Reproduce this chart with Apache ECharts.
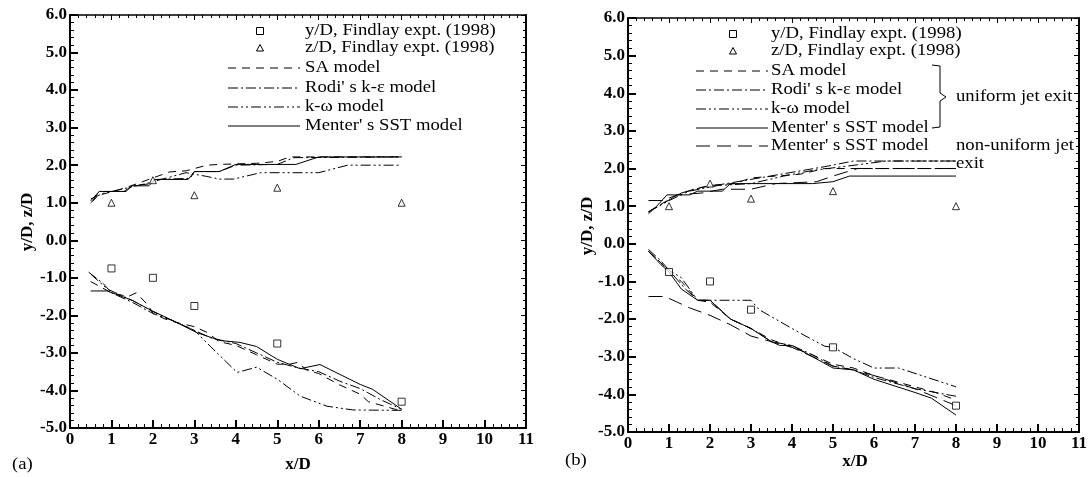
<!DOCTYPE html>
<html><head><meta charset="utf-8">
<script src="https://cdn.jsdelivr.net/npm/echarts@6/dist/echarts.min.js"></script>
<style>html,body{margin:0;padding:0;background:#fff}#c{width:1090px;height:477px}</style>
</head><body><div id="c"></div>
<script>
// ---------- DATA ----------
const xTicks = [0,1,2,3,4,5,6,7,8,9,10,11];
const yTicks = [-5,-4,-3,-2,-1,0,1,2,3,4,5,6];
const expX  = [1, 2, 3, 5, 8];
const expYD = [-0.75, -1.0, -1.75, -2.75, -4.3];   // y/D Findlay expt.
const expZD = [1.0, 1.6, 1.2, 1.4, 1.0];           // z/D Findlay expt.

// Panel (a) : z/D branch (upper)
const aSAzX   = [0.5,0.7,1.2,1.6,2.1,2.4,2.8,3.3,3.6,4.5,5.0,5.3,8.0];
const aSAz    = [1.0,1.2,1.35,1.5,1.7,1.82,1.85,2.0,2.02,2.05,2.1,2.22,2.22];
const aRodizX = [0.5,0.7,1.3,1.5,1.9,2.1,2.9,3.0,3.6,4.0,5.0,5.4,8.0];
const aRodiz  = [1.05,1.3,1.3,1.45,1.5,1.62,1.65,1.83,1.83,2.0,2.02,2.2,2.22];
const aKWzX   = [0.5,0.8,1.4,1.8,2.2,2.8,3.3,3.6,3.95,4.6,6.0,6.7,8.0];
const aKWz    = [1.1,1.25,1.4,1.5,1.62,1.8,1.7,1.63,1.63,1.8,1.8,2.0,2.0];
const aSSTzX  = [0.55,0.7,1.35,1.5,1.9,2.05,2.85,3.0,3.6,4.0,5.45,6.0,8.0];
const aSSTz   = [1.05,1.3,1.3,1.45,1.45,1.62,1.62,1.83,1.83,2.02,2.02,2.22,2.22];
// Panel (a) : y/D branch (lower)
const aSAyX   = [0.5,1.0,1.4,1.6,1.9,2.0,2.3,2.6,3.0,3.3,3.6,4.0,4.5,5.0,5.3,5.5,5.7,6.0,6.5,7.0,7.2,8.0];
const aSAy    = [-1.1,-1.4,-1.5,-1.4,-1.75,-1.95,-2.1,-2.2,-2.3,-2.45,-2.7,-2.8,-3.05,-3.3,-3.3,-3.25,-3.45,-3.55,-3.85,-4.1,-4.3,-4.55];
const aRodiyX = [0.45,0.8,1.0,1.5,2.0,2.5,3.0,3.4,4.0,4.5,5.0,5.5,6.0,6.5,7.0,7.5,8.0];
const aRodiy  = [-0.85,-1.15,-1.4,-1.65,-1.95,-2.15,-2.4,-2.6,-2.75,-3.0,-3.25,-3.4,-3.5,-3.75,-3.95,-4.25,-4.5];
const aKWyX   = [0.5,0.9,1.5,2.0,2.5,3.0,3.38,4.03,4.5,5.0,5.55,6.2,6.83,8.0];
const aKWy    = [-0.9,-1.3,-1.6,-1.9,-2.15,-2.4,-2.82,-3.52,-3.38,-3.7,-4.15,-4.42,-4.52,-4.53];
const aSSTyX  = [0.5,0.9,1.5,2.0,2.5,3.06,3.62,4.1,4.5,5.0,5.55,6.03,7.0,7.3,8.0];
const aSSTy   = [-1.35,-1.35,-1.6,-1.89,-2.15,-2.46,-2.67,-2.72,-2.83,-3.17,-3.42,-3.31,-3.84,-3.97,-4.5];

// Panel (b) : z/D branch (upper)
const bSAzX   = [0.5,0.8,1.2,1.6,2.0,2.6,3.0,3.6,4.2,4.8,8.0];
const bSAz    = [0.85,1.05,1.3,1.45,1.55,1.6,1.75,1.8,1.85,2.0,2.0];
const bRodizX = [0.5,0.9,1.3,1.8,2.4,3.2,4.0,4.8,5.5,8.0];
const bRodiz  = [0.85,1.1,1.35,1.5,1.6,1.75,1.9,2.05,2.2,2.2];
const bKWzX   = [0.5,1.0,1.5,2.2,3.0,3.8,4.5,5.6,6.3,8.0];
const bKWz    = [0.85,1.15,1.4,1.55,1.6,1.8,1.95,2.1,2.2,2.2];
const bSSTzX  = [0.5,0.7,0.95,1.5,1.7,2.3,2.5,4.5,5.0,5.4,8.0];
const bSSTz   = [0.8,1.0,1.3,1.3,1.4,1.4,1.6,1.6,1.65,1.8,1.8];
const bNUzX   = [0.5,0.85,1.2,1.8,2.3,3.0,3.6,4.6,5.0,5.6,8.0];
const bNUz    = [1.15,1.15,1.3,1.35,1.45,1.45,1.6,1.65,1.8,2.0,2.0];
// Panel (b) : y/D branch (lower)
const bSAyX   = [0.5,0.8,1.0,1.3,1.7,2.0,2.5,3.0,3.5,4.0,4.5,5.0,5.5,6.0,7.0,7.5,8.0];
const bSAy    = [-0.2,-0.5,-0.75,-1.0,-1.5,-1.55,-2.0,-2.25,-2.55,-2.75,-2.95,-3.2,-3.3,-3.5,-3.8,-3.95,-4.15];
const bRodiyX = [0.5,0.8,1.0,1.4,1.7,2.0,2.5,3.0,3.5,4.0,4.5,5.0,5.5,6.0,7.0,8.0];
const bRodiy  = [-0.15,-0.45,-0.7,-1.2,-1.5,-1.5,-2.0,-2.25,-2.6,-2.7,-2.95,-3.25,-3.35,-3.55,-3.85,-4.05];
const bKWyX   = [0.5,0.8,1.0,1.3,1.7,2.5,3.0,3.2,4.0,4.5,4.8,5.0,5.5,6.0,6.6,7.3,8.0];
const bKWy    = [-0.2,-0.5,-0.7,-0.9,-1.5,-1.5,-1.5,-1.75,-2.25,-2.55,-2.72,-2.75,-3.05,-3.3,-3.3,-3.55,-3.8];
const bSSTyX  = [0.5,0.8,1.0,1.3,1.7,2.0,2.5,3.0,3.5,3.7,4.0,4.5,5.0,5.5,5.7,6.0,7.0,7.4,8.0];
const bSSTy   = [-0.2,-0.55,-0.75,-1.2,-1.5,-1.5,-2.0,-2.25,-2.6,-2.7,-2.7,-3.0,-3.3,-3.35,-3.45,-3.6,-3.95,-4.1,-4.55];
const bNUyX   = [0.5,0.9,1.2,1.5,2.0,2.5,3.0,3.5,4.0,4.5,5.0,5.5,6.0,7.0,8.0];
const bNUy    = [-1.4,-1.4,-1.55,-1.7,-1.9,-2.15,-2.45,-2.6,-2.75,-3.0,-3.25,-3.35,-3.5,-3.85,-4.3];

// ---------- STYLE ----------
const SERIF = '"Liberation Serif","DejaVu Serif",serif';
const DASH = {SA:[8,6], Rodi:[10,3,2,3], KW:[10,3,2,3,2,3], SST:'solid', NU:[14,7]};

function zip(xs, ys){ return xs.map((x,i)=>[x, ys[i]]); }
function line(xs, ys, dash, g){
  return {type:'line', xAxisIndex:g*2, yAxisIndex:g*2, data:zip(xs,ys), symbol:'none',
    lineStyle:{color:'#000', width:1, type:dash}, silent:true, animation:false, z:3};
}
function scat(xs, ys, sym, size, g){
  return {type:'scatter', xAxisIndex:g*2, yAxisIndex:g*2, data:zip(xs,ys), symbol:sym, symbolSize:size,
    itemStyle:{color:'#fff', borderColor:'#000', borderWidth:1}, silent:true, animation:false, z:5};
}
function axesFor(g){
  const xa = [
    {gridIndex:g, type:'value', min:0, max:11, interval:1, position:'bottom',
     axisLine:{onZero:false, lineStyle:{color:'#000', width:2}}, axisTick:{inside:true, length:8, lineStyle:{width:2}},
     minorTick:{show:true, splitNumber:5, length:4, lineStyle:{color:'#000', width:1}},
     splitLine:{show:false},
     axisLabel:{color:'#000', fontFamily:SERIF, fontSize:17, fontWeight:'bold', margin:3,
       formatter:v=>String(xTicks[Math.round(v)])}},
    {gridIndex:g, type:'value', min:0, max:11, interval:1, position:'top',
     axisLine:{onZero:false, lineStyle:{color:'#000', width:1.5}}, axisTick:{inside:true, length:5, lineStyle:{width:1}},
     minorTick:{show:true, splitNumber:5, length:3, lineStyle:{color:'#000'}},
     splitLine:{show:false}, axisLabel:{show:false}}
  ];
  const ya = [
    {gridIndex:g, type:'value', min:-5, max:6, interval:1, position:'left',
     axisLine:{onZero:false, lineStyle:{color:'#000', width:2}}, axisTick:{inside:true, length:8, lineStyle:{width:2}},
     minorTick:{show:true, splitNumber:5, length:4, lineStyle:{color:'#000', width:1}},
     splitLine:{show:false},
     axisLabel:{color:'#000', fontFamily:SERIF, fontSize:17, fontWeight:'bold', margin:3,
       formatter:v=>yTicks[Math.round(v)+5].toFixed(1)}},
    {gridIndex:g, type:'value', min:-5, max:6, interval:1, position:'right',
     axisLine:{onZero:false, lineStyle:{color:'#000', width:2}}, axisTick:{inside:true, length:5, lineStyle:{width:1}},
     minorTick:{show:true, splitNumber:5, length:3, lineStyle:{color:'#000'}},
     splitLine:{show:false}, axisLabel:{show:false}}
  ];
  return {xa, ya};
}
const A = axesFor(0), B = axesFor(1);

// ---------- LEGEND / ANNOTATIONS (graphic) ----------
function txt(x, y, s, opt){
  return Object.assign({type:'text', x, y, scaleX:1.1, silent:true, z:10,
    style:{text:s, fill:'#000', font:'17px '+SERIF, textAlign:'left', textVerticalAlign:'middle'}}, opt||{});
}
function lsample(x1, x2, y, dash){
  return {type:'line', silent:true, z:10, shape:{x1, y1:y, x2, y2:y},
    style:{stroke:'#000', lineWidth:1, lineDash: dash==='solid'?null:dash}};
}
function sq(x, y){ return {type:'rect', silent:true, z:10, shape:{x:x-3.5, y:y-3.5, width:7, height:7}, style:{fill:'#fff', stroke:'#000', lineWidth:1}}; }
function tri(x, y){ return {type:'polygon', silent:true, z:10, shape:{points:[[x,y-3.5],[x+3.5,y+3],[x-3.5,y+3]]}, style:{fill:'#fff', stroke:'#000', lineWidth:1}}; }

const legA = [
  sq(260,31), txt(305,31,'y/D, Findlay expt. (1998)'),
  tri(260,48), txt(305,48,'z/D, Findlay expt. (1998)'),
  lsample(228,300,68,DASH.SA), txt(305,68,'SA model'),
  lsample(228,300,88,DASH.Rodi), txt(305,88,"Rodi' s k-ε model"),
  lsample(228,300,107,DASH.KW), txt(305,107,'k-ω model'),
  lsample(228,300,126,DASH.SST), txt(305,126,"Menter' s SST model")
];
const legB = [
  sq(733,34), txt(771,34,'y/D, Findlay expt. (1998)'),
  tri(733,51), txt(771,51,'z/D, Findlay expt. (1998)'),
  lsample(696,768,71,DASH.SA), txt(771,71,'SA model'),
  lsample(696,768,90,DASH.Rodi), txt(771,90,"Rodi' s k-ε model"),
  lsample(696,768,109,DASH.KW), txt(771,109,'k-ω model'),
  lsample(696,768,128,DASH.SST), txt(771,128,"Menter' s SST model"),
  lsample(696,768,146,DASH.NU), txt(771,146,"Menter' s SST model"),
  {type:'polyline', silent:true, z:10, shape:{points:[[932,65],[940,66],[940,93],[946,97],[940,101],[940,127],[932,128]]}, style:{stroke:'#000', lineWidth:1, fill:null}},
  txt(956,97,'uniform jet exit'),
  txt(956,146,'non-uniform jet'),
  txt(956,164,'exit')
];
function bold(x, y, s, rot){
  return {type:'text', x, y, rotation:rot||0, silent:true, z:10,
    style:{text:s, fill:'#000', font:'bold 17px '+SERIF, textAlign:'center', textVerticalAlign:'middle'}};
}
const labels = [
  txt(12,465,'(a)'), txt(565,461,'(b)'),
  bold(298,465,'x/D'), bold(855,462,'x/D'),
  bold(28,222,'y/D, z/D',Math.PI/2), bold(588,226,'y/D, z/D',Math.PI/2)
];

const chart = echarts.init(document.getElementById('c'), null, {renderer:'canvas'});
chart.setOption({
  animation:false,
  backgroundColor:'#fff',
  grid:[
    {left:70, top:15, width:456, height:413},
    {left:628, top:18, width:454, height:414}
  ],
  xAxis:[...A.xa, ...B.xa],
  yAxis:[...A.ya, ...B.ya],
  series:[
    line(aSAzX,aSAz,DASH.SA,0), line(aRodizX,aRodiz,DASH.Rodi,0), line(aKWzX,aKWz,DASH.KW,0), line(aSSTzX,aSSTz,DASH.SST,0),
    line(aSAyX,aSAy,DASH.SA,0), line(aRodiyX,aRodiy,DASH.Rodi,0), line(aKWyX,aKWy,DASH.KW,0), line(aSSTyX,aSSTy,DASH.SST,0),
    scat(expX,expYD,'rect',7,0), scat(expX,expZD,'triangle',7,0),
    line(bSAzX,bSAz,DASH.SA,1), line(bRodizX,bRodiz,DASH.Rodi,1), line(bKWzX,bKWz,DASH.KW,1), line(bSSTzX,bSSTz,DASH.SST,1), line(bNUzX,bNUz,DASH.NU,1),
    line(bSAyX,bSAy,DASH.SA,1), line(bRodiyX,bRodiy,DASH.Rodi,1), line(bKWyX,bKWy,DASH.KW,1), line(bSSTyX,bSSTy,DASH.SST,1), line(bNUyX,bNUy,DASH.NU,1),
    scat(expX,expYD,'rect',7,1), scat(expX,expZD,'triangle',7,1)
  ],
  graphic:[...legA, ...legB, ...labels]
});
</script></body></html>
